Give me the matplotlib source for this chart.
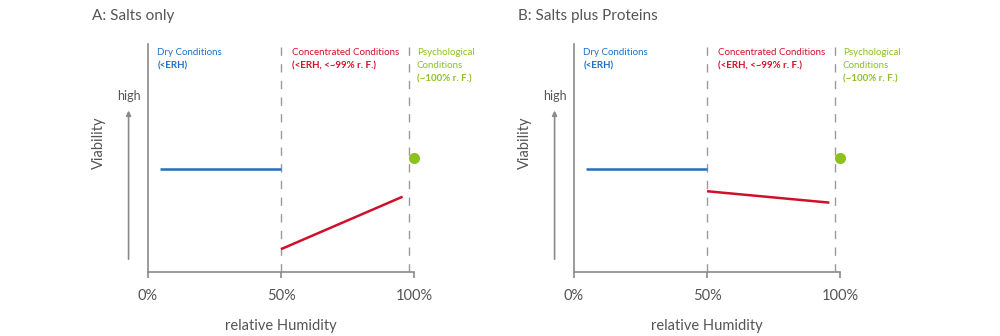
import matplotlib.pyplot as plt

plt.rcParams['font.family'] = ['Lato', 'DejaVu Sans']

# humidity in %, viability on an arbitrary 0..100 scale
ticks = [0, 50, 100]
tick_labels = ['0%', '50%', '100%']
zone_edges = [50, 98]

dry_x = [4.5, 50]
dry_y = [45, 45]

conc_a_x = [50, 95.7]
conc_a_y = [10, 33]
conc_b_x = [50, 96]
conc_b_y = [35.4, 30.4]

psych_x = [100]
psych_y = [50]

titles = ['A: Salts only', 'B: Salts plus Proteins']

BLUE = '#1f70c1'
RED = '#d0102a'
GREEN = '#8cc21e'
GREY = '#8a8a8a'
TEXT = '#555555'

fig = plt.figure(figsize=(10, 3.36), dpi=100)

# caption rows (axis units, text centred on them)
row = [96, 90.3, 84.6]


def caption(ax, x, lines, color):
    for i, (s, w) in enumerate(lines):
        ax.text(x, row[i], s, color=color, fontsize=7, va='center',
                fontweight=w, clip_on=False)


def panel(left, title, conc_x, conc_y):
    ax = fig.add_axes([left, 0.1905, 0.266, 0.679])
    ax.set_xlim(0, 100)
    ax.set_ylim(0, 100)
    for s in ['top', 'right']:
        ax.spines[s].set_visible(False)
    for s in ['left', 'bottom']:
        ax.spines[s].set_color(GREY)
        ax.spines[s].set_linewidth(1.2)
    ax.set_yticks([])
    ax.set_xticks(ticks)
    ax.set_xticklabels(tick_labels)
    ax.tick_params(axis='x', length=4, width=1.2, color=GREY,
                   labelsize=10.5, labelcolor=TEXT, pad=8)
    ax.set_xlabel('relative Humidity', fontsize=10.5, color=TEXT, labelpad=12)

    for e in zone_edges:
        ax.axvline(e, color='#9a9a9a', lw=1, ls=(0, (6, 6)))

    ax.plot(dry_x, dry_y, color=BLUE, lw=1.8, solid_capstyle='butt')
    ax.plot(conc_x, conc_y, color=RED, lw=1.8, solid_capstyle='butt')
    ax.plot(psych_x, psych_y, 'o', color=GREEN, ms=7, clip_on=False)

    caption(ax, 3.5, [('Dry Conditions', 'normal'), ('(<ERH)', 'bold')], BLUE)
    caption(ax, 54, [('Concentrated Conditions', 'normal'),
                     ('(<ERH, <~99% r. F.)', 'bold')], RED)
    caption(ax, 101, [('Psychological', 'normal'), ('Conditions', 'normal'),
                      ('(~100% r. F.)', 'bold')], GREEN)

    # viability arrow
    ax.annotate('', xy=(-7.3, 72), xytext=(-7.3, 4.4),
                arrowprops=dict(arrowstyle='-|>', color=GREY, lw=1.2,
                                mutation_scale=7),
                annotation_clip=False)
    ax.text(-7.3, 77, 'high', ha='center', va='center', fontsize=9,
            color=TEXT, clip_on=False)
    ax.text(-18.5, 56.6, 'Viability', ha='center', va='center', fontsize=10.5,
            color=TEXT, rotation=90, clip_on=False)

    ax.text(-21, 112, title, fontsize=11, color=TEXT, va='center',
            clip_on=False)
    return ax


panel(0.148, titles[0], conc_a_x, conc_a_y)
panel(0.574, titles[1], conc_b_x, conc_b_y)

fig.savefig('out.png', dpi=100)
